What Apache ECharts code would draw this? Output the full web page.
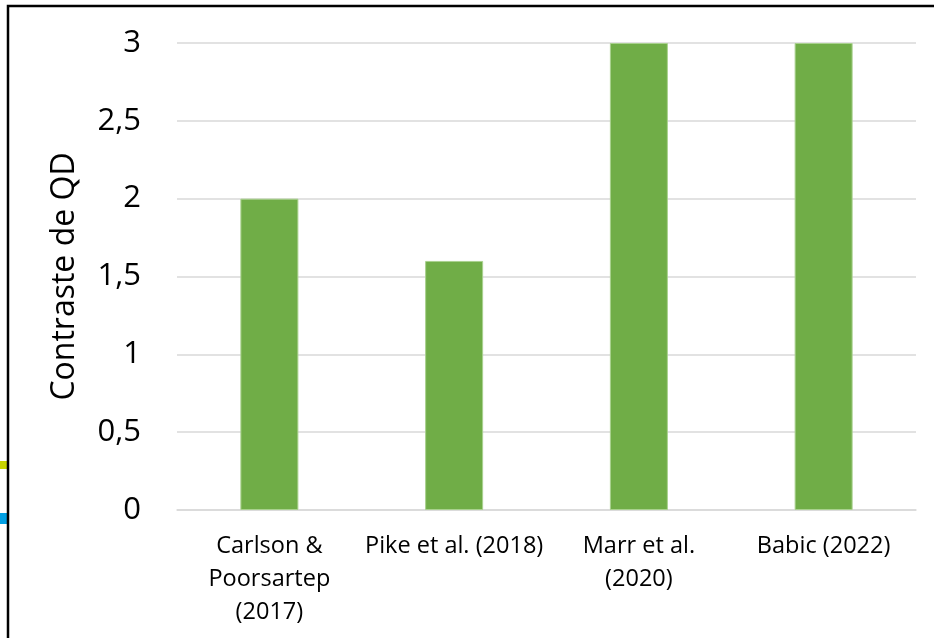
<!DOCTYPE html>
<html>
<head>
<meta charset="utf-8">
<script src="https://cdn.jsdelivr.net/npm/echarts@6/dist/echarts.min.js"></script>
<style>
  html, body { margin: 0; padding: 0; background: #ffffff; }
  #chart { width: 934px; height: 638px; }
</style>
</head>
<body>
<div id="chart"></div>
<script>
// Studies and their QD contrast values
const studies = ['Carlson &\nPoorsartep\n(2017)', 'Pike et al. (2018)', 'Marr et al.\n(2020)', 'Babic (2022)'];
const contrastValues = [2, 1.6, 3, 3];
const yTicks = [0, 0.5, 1, 1.5, 2, 2.5, 3];

const chart = echarts.init(document.getElementById('chart'));
const font = '"Open Sans", sans-serif';

chart.setOption({
  animation: false,
  backgroundColor: '#ffffff',
  grid: { left: 177, right: 18, top: 43, bottom: 128 },
  graphic: [
    // frame around the chart area
    { type: 'rect', shape: { x: 8, y: 6, width: 1000, height: 700 },
      style: { fill: 'none', stroke: '#000000', lineWidth: 2.5 }, z: 10 },
    { type: 'rect', shape: { x: 0, y: 461, width: 7, height: 8 }, style: { fill: '#c8d400' } },
    { type: 'rect', shape: { x: 0, y: 513, width: 7, height: 11 }, style: { fill: '#009fe3' } }
  ],
  xAxis: {
    type: 'category',
    data: studies,
    axisLine: { show: true, lineStyle: { color: '#d9d9d9', width: 1.5 } },
    axisTick: { show: false },
    axisLabel: {
      fontFamily: font, fontSize: 23.5, color: '#000000',
      lineHeight: 33, margin: 20, interval: 0
    }
  },
  yAxis: {
    type: 'value',
    min: 0, max: 3, interval: 0.5,
    name: 'Contraste de QD',
    nameLocation: 'middle',
    nameGap: 96,
    nameMoveOverlap: false,
    nameRotate: 90,
    nameTextStyle: { fontFamily: font, fontSize: 32, color: '#000000' },
    axisLine: { show: false },
    axisTick: { show: false },
    splitLine: { lineStyle: { color: '#d9d9d9', width: 1.5 } },
    axisLabel: {
      fontFamily: font, fontSize: 31, color: '#000000', margin: 36,
      formatter: v => yTicks.includes(v) ? String(v).replace('.', ',') : ''
    }
  },
  series: [{
    type: 'bar',
    data: contrastValues,
    barWidth: 58,
    itemStyle: { color: '#70ad47', borderColor: '#a9d18e', borderWidth: 1 }
  }]
});
</script>
</body>
</html>
